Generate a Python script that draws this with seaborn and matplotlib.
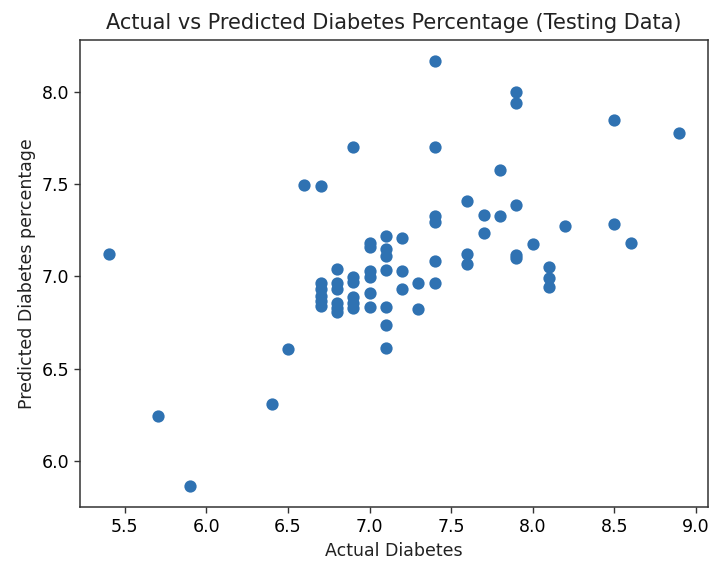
import matplotlib
matplotlib.use("Agg")
import matplotlib.pyplot as plt
import seaborn as sns
import pandas as pd

actual = [5.4, 5.7, 5.9, 6.4, 6.5, 6.6,
          6.7, 6.7, 6.7, 6.7, 6.7, 6.7,
          6.8, 6.8, 6.8, 6.8, 6.8, 6.8,
          6.9, 6.9, 6.9, 6.9, 6.9, 6.9,
          7.0, 7.0, 7.0, 7.0, 7.0, 7.0,
          7.1, 7.1, 7.1, 7.1, 7.1, 7.1, 7.1,
          7.2, 7.2, 7.2,
          7.3, 7.3,
          7.4, 7.4, 7.4, 7.4, 7.4, 7.4,
          7.6, 7.6, 7.6,
          7.7, 7.7,
          7.8, 7.8,
          7.9, 7.9, 7.9, 7.9, 7.9,
          8.0,
          8.1, 8.1, 8.1,
          8.2,
          8.5, 8.5,
          8.6,
          8.9]
predicted = [7.12, 6.245, 5.865, 6.31, 6.605, 7.495,
             7.49, 6.965, 6.93, 6.895, 6.865, 6.84,
             7.04, 6.965, 6.93, 6.855, 6.83, 6.805,
             7.70, 6.995, 6.97, 6.885, 6.855, 6.83,
             7.18, 7.16, 7.03, 6.995, 6.91, 6.835,
             7.22, 7.145, 7.11, 7.035, 6.835, 6.735, 6.61,
             7.205, 7.03, 6.93,
             6.965, 6.825,
             8.165, 7.70, 7.325, 7.295, 7.085, 6.965,
             7.41, 7.12, 7.065,
             7.33, 7.235,
             7.575, 7.325,
             8.00, 7.94, 7.385, 7.115, 7.10,
             7.175,
             7.05, 6.99, 6.94,
             7.27,
             7.845, 7.285,
             7.18,
             7.775]

title = "Actual vs Predicted Diabetes Percentage (Testing Data)"
xlabel = "Actual Diabetes"
ylabel = "Predicted Diabetes percentage"

df = pd.DataFrame({"actual": actual, "predicted": predicted})

plt.rcParams['font.family'] = ['DejaVu Sans']
fig = plt.figure(figsize=(7.12, 5.62), dpi=100)
ax = fig.add_axes([0.1124, 0.0979, 0.882, 0.831])

color = "#2f72b2"
sns.scatterplot(data=df, x="actual", y="predicted", ax=ax, s=58,
                color=color, edgecolor=color, linewidth=1.2, alpha=1)

ax.set_xticks([5.5, 6.0, 6.5, 7.0, 7.5, 8.0, 8.5, 9.0])
ax.set_yticks([6.0, 6.5, 7.0, 7.5, 8.0])
ax.margins(0.05)
ax.tick_params(labelsize=12.5, length=4.5, width=1.0, color="#333333")
ax.set_title(title, fontsize=15, pad=8, color="#222222")
ax.set_xlabel(xlabel, fontsize=12.5, color="#222222")
ax.set_ylabel(ylabel, fontsize=12.5, color="#222222")
for sp in ax.spines.values():
    sp.set_linewidth(1.1)
    sp.set_color("#333333")

fig.savefig("out.png", dpi=100)
